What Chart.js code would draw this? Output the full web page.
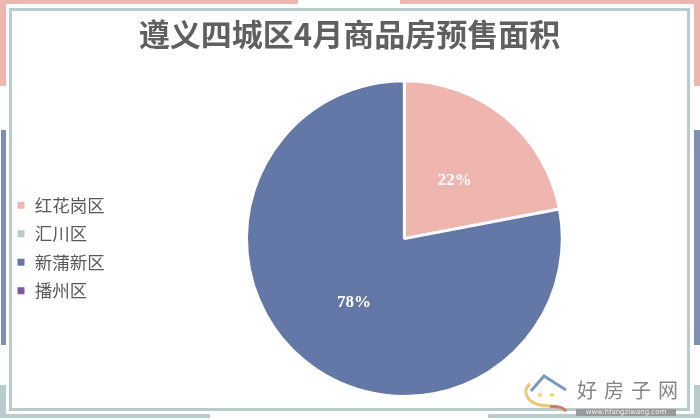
<!DOCTYPE html>
<html>
<head>
<meta charset="utf-8">
<script src="https://cdn.jsdelivr.net/npm/chart.js@4/dist/chart.umd.min.js"></script>
<style>
html, body { margin: 0; padding: 0; background: #fff; }
#wrap { position: relative; width: 700px; height: 420px; overflow: hidden; }
#chart-area { position: absolute; left: 0; top: 0; }
.bar { position: absolute; }
#frame { position: absolute; left: 9px; top: 8px; width: 675px; height: 397px; border: 3px solid #b9cbcb; }
#logo { position: absolute; left: 520px; top: 370px; }
#mark { position: absolute; left: 577px; top: 376px; font: 20px/28px "Noto Sans CJK SC"; letter-spacing: 7px; color: #858585; white-space: nowrap; }
#url { position: absolute; left: 576px; top: 409px; width: 100px; height: 7px; background: #9a9a9a; color: #eee; font: 7px/7px "DejaVu Sans"; text-align: center; white-space: nowrap; overflow: hidden; }
</style>
</head>
<body>
<div id="wrap">
	<div class="bar" style="left:0;top:0;width:298px;height:4px;background:#efb5af"></div>
	<div class="bar" style="left:0;top:0;width:6px;height:86px;background:#efb5af"></div>
	<div class="bar" style="left:400px;top:0;width:300px;height:4px;background:#efb5af"></div>
	<div class="bar" style="left:694px;top:0;width:6px;height:86px;background:#efb5af"></div>
	<div class="bar" style="left:1px;top:130px;width:5px;height:215px;background:#7f8fb3"></div>
	<div class="bar" style="left:694px;top:130px;width:6px;height:215px;background:#7f8fb3"></div>
	<div class="bar" style="left:0;top:414px;width:210px;height:4px;background:#b9cbcb"></div>
	<div class="bar" style="left:0;top:385px;width:6px;height:33px;background:#b9cbcb"></div>
	<div class="bar" style="left:488px;top:414px;width:212px;height:4px;background:#b9cbcb"></div>
	<div class="bar" style="left:694px;top:385px;width:6px;height:33px;background:#b9cbcb"></div>
	<div id="frame"></div>
	<canvas id="chart-area" width="700" height="420"></canvas>
	<svg id="logo" width="50" height="46" viewBox="0 0 50 46">
		<path d="M10 14 C2 20 6 32 20 35 C30 37 40 35 46 41" fill="none" stroke="#ecc77a" stroke-width="3"/>
		<path d="M30 36.500 C38 36 43 37 46 41" fill="none" stroke="#c9806a" stroke-width="3"/>
		<path d="M11 21 L24 6 L46 20" fill="none" stroke="#7b98c4" stroke-width="3"/>
		<circle cx="20" cy="25" r="2" fill="#f0d870"/>
		<circle cx="32" cy="25" r="2" fill="#f0d870"/>
	</svg>
	<div id="mark">好房子网</div>
	<div id="url">www.hfangziwang.com</div>
</div>
<script>
var titleText = '遵义四城区4月商品房预售面积';
var categories = ['红花岗区', '汇川区', '新蒲新区', '播州区'];
var areaShare = [22, 0, 78, 0];
var sliceColors = ['#efb5af', '#b9cbcb', '#6478a8', '#7b5a9c'];

// 百分比標籤，畫在每一塊扇形的中間
var percentLabels = {
	id: 'percentLabels',
	afterDatasetsDraw: function(chart) {
		var c = chart.ctx;
		var arcs = chart.getDatasetMeta(0).data;
		c.save();
		c.fillStyle = '#ffffff';
		c.font = 'bold 17px "Liberation Serif"';
		c.textAlign = 'center';
		c.textBaseline = 'middle';
		for (var i = 0; i < arcs.length; i++) {
			if (areaShare[i] > 0) {
				var pos = arcs[i].tooltipPosition();
				c.fillText(areaShare[i] + '%', pos.x, pos.y + 3);
			}
		}
		c.restore();
	}
};

// 圖例往下移一點，不跟圓餅置中
var legendShift = {
	id: 'legendShift',
	afterLayout: function(chart) {
		chart.legend.top += 41;
		chart.legend.bottom += 41;
	}
};

var ctx = document.getElementById('chart-area');
var myChart = new Chart(ctx, {
	type: 'pie',
	data: {
		labels: categories,
		datasets: [{
			data: areaShare,
			backgroundColor: sliceColors,
			borderColor: '#ffffff',
			borderWidth: 3
		}]
	},
	plugins: [percentLabels, legendShift],
	options: {
		responsive: false,
		animation: false,
		layout: { padding: { left: 5, right: 6, top: 16, bottom: 22 } },
		plugins: {
			title: {
				display: true,
				text: titleText,
				color: '#606060',
				font: { family: '"Noto Sans CJK SC"', size: 31, weight: 'bold' },
				padding: { top: 0, bottom: 26 }
			},
			legend: {
				position: 'left',
				labels: {
					usePointStyle: true,
					pointStyle: 'rect',
					boxWidth: 10,
					boxHeight: 10,
					padding: 11,
					color: '#595959',
					font: { family: '"Noto Sans CJK SC"', size: 17.5 }
				}
			},
			tooltip: { enabled: false }
		}
	}
});
</script>
</body>
</html>
